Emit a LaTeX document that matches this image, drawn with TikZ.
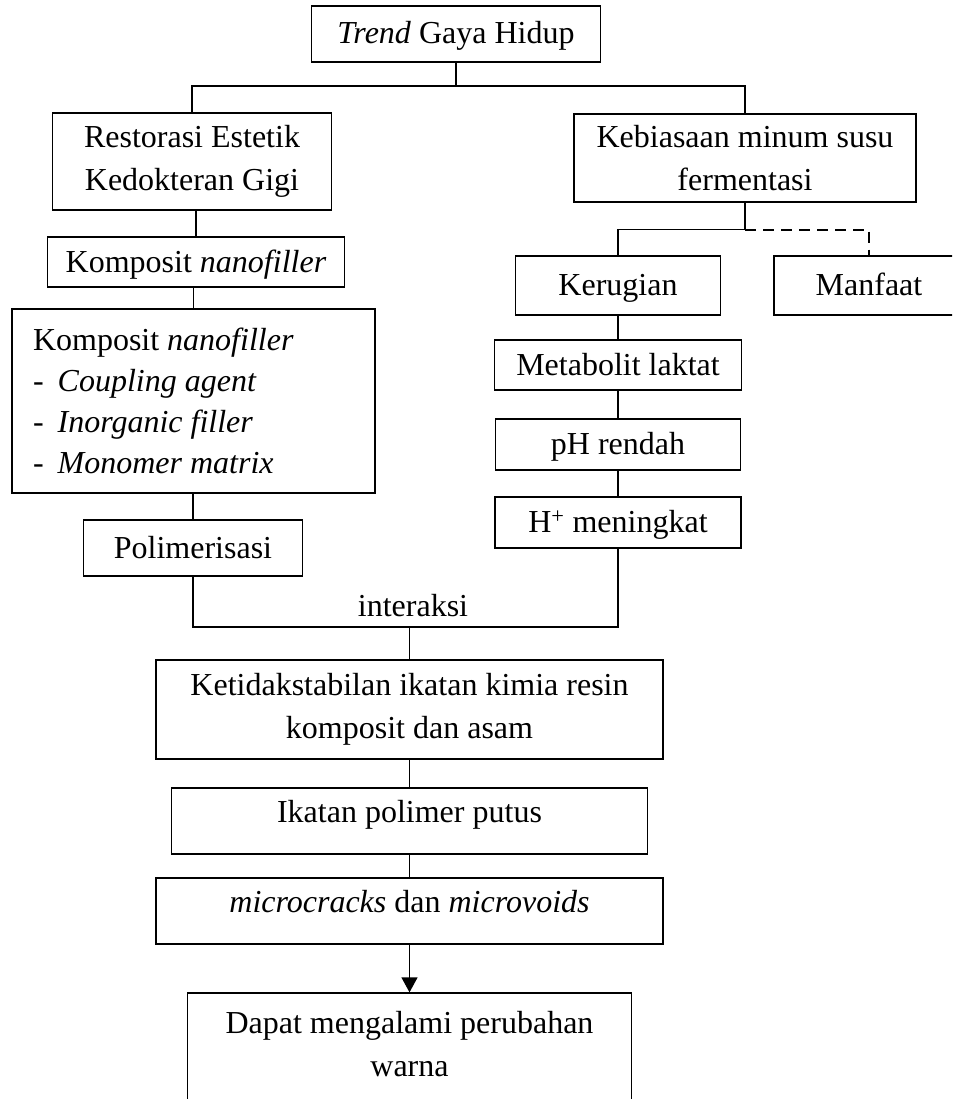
\documentclass[tikz,border=0pt]{standalone}
\usepackage{fontspec}
\setmainfont{Liberation Serif}
\usetikzlibrary{arrows.meta}

\begin{document}
\begin{tikzpicture}[x=1pt,y=-1pt,font=\fontsize{32}{43}\selectfont,
      baris/.style={text height=25pt,text depth=5pt}]
      \useasboundingbox (0,0) rectangle (952,1099);
      \clip (0,0) rectangle (952,1099);
      \begin{scope}[every node/.style={rectangle,draw,line width=1.3pt,align=center,inner sep=0pt}]
        \node (trend) [baris,minimum width=289pt,minimum height=56pt] at (456,34) {\textit{Trend} Gaya Hidup};
        \node (restorasi) [minimum width=279pt,minimum height=97pt] at (192,161.5) {Restorasi Estetik\\Kedokteran Gigi};
        \node (kebiasaan) [minimum width=342pt,minimum height=88pt] at (745,158) {Kebiasaan minum susu\\fermentasi};
        \node (komposit) [baris,minimum width=297pt,minimum height=50pt] at (196,262) {Komposit \textit{nanofiller}};
        \node (kandungan) [minimum width=363pt,minimum height=184pt,text width=321pt,inner xsep=21pt,align=left,
          font=\fontsize{32}{41}\selectfont] at (193.5,401)
          {\spaceskip=0pt\xspaceskip=0pt
           Komposit \textit{nanofiller}\\
           -\hspace{14pt}\textit{Coupling agent}\\
           -\hspace{14pt}\textit{Inorganic filler}\\
           -\hspace{14pt}\textit{Monomer matrix}};
        \node (polimerisasi) [baris,minimum width=219pt,minimum height=56pt] at (193,548) {Polimerisasi};
        \node (kerugian) [baris,minimum width=205pt,minimum height=59pt] at (618,285.5) {Kerugian};
        \node (manfaat) [baris,minimum width=190pt,minimum height=59pt] at (869,285.5) {Manfaat};
        \node (metabolit) [baris,minimum width=247pt,minimum height=50pt] at (618,365) {Metabolit laktat};
        \node (phrendah) [baris,minimum width=245pt,minimum height=51pt] at (618,444.5) {pH rendah};
        \node (hplus) [baris,minimum width=246pt,minimum height=51pt] at (618,522.5) {H\textsuperscript{+} meningkat};
        \node (ketidak) [minimum width=507pt,minimum height=99pt] at (409.5,709.5) {Ketidakstabilan ikatan kimia resin\\komposit dan asam};
        \node (ikatan) [minimum width=476pt,minimum height=66pt,text height=22pt,text depth=20pt] at (409.5,821) {Ikatan polimer putus};
        \node (microcracks) [minimum width=507pt,minimum height=66pt,text height=22pt,text depth=20pt] at (409.5,911) {\textit{microcracks} dan \textit{microvoids}};
        \node (dapat) [minimum width=444pt,minimum height=117pt,text depth=16pt] at (409.5,1051.5) {Dapat mengalami perubahan\\warna};
      \end{scope}
      \node (interaksi) at (413,606) {interaksi};
      \begin{scope}[line width=1.3pt]
        \coordinate (topbar) at (456,86);
        \coordinate (bar) at (409.5,627);
        \draw (trend.south) -- (topbar);
        \draw (restorasi.north) |- (topbar) -| (kebiasaan.north);
        \draw (kebiasaan.south) -- ++(0,27) coordinate (split);
        \draw (split) -| (kerugian.north);
        \draw[line width=2.2pt,dash pattern=on 11pt off 7pt] (split) -| (manfaat.north);
        \draw (komposit.north) -- (komposit.north |- restorasi.south);
        \draw (kandungan.north) -- (kandungan.north |- komposit.south);
        \draw (polimerisasi.north) -- (polimerisasi.north |- kandungan.south);
        \draw (kerugian.south) -- (metabolit.north);
        \draw (metabolit.south) -- (phrendah.north);
        \draw (phrendah.south) -- (hplus.north);
        \draw (polimerisasi.south) |- (bar) -| (hplus.south);
        \draw (bar) -- (ketidak.north);
        \draw (ketidak.south) -- (ikatan.north);
        \draw (ikatan.south) -- (microcracks.north);
        \draw[-{Triangle[length=15pt,width=16pt]}] (microcracks.south) -- (dapat.north);
      \end{scope}
    \end{tikzpicture}
\end{document}
